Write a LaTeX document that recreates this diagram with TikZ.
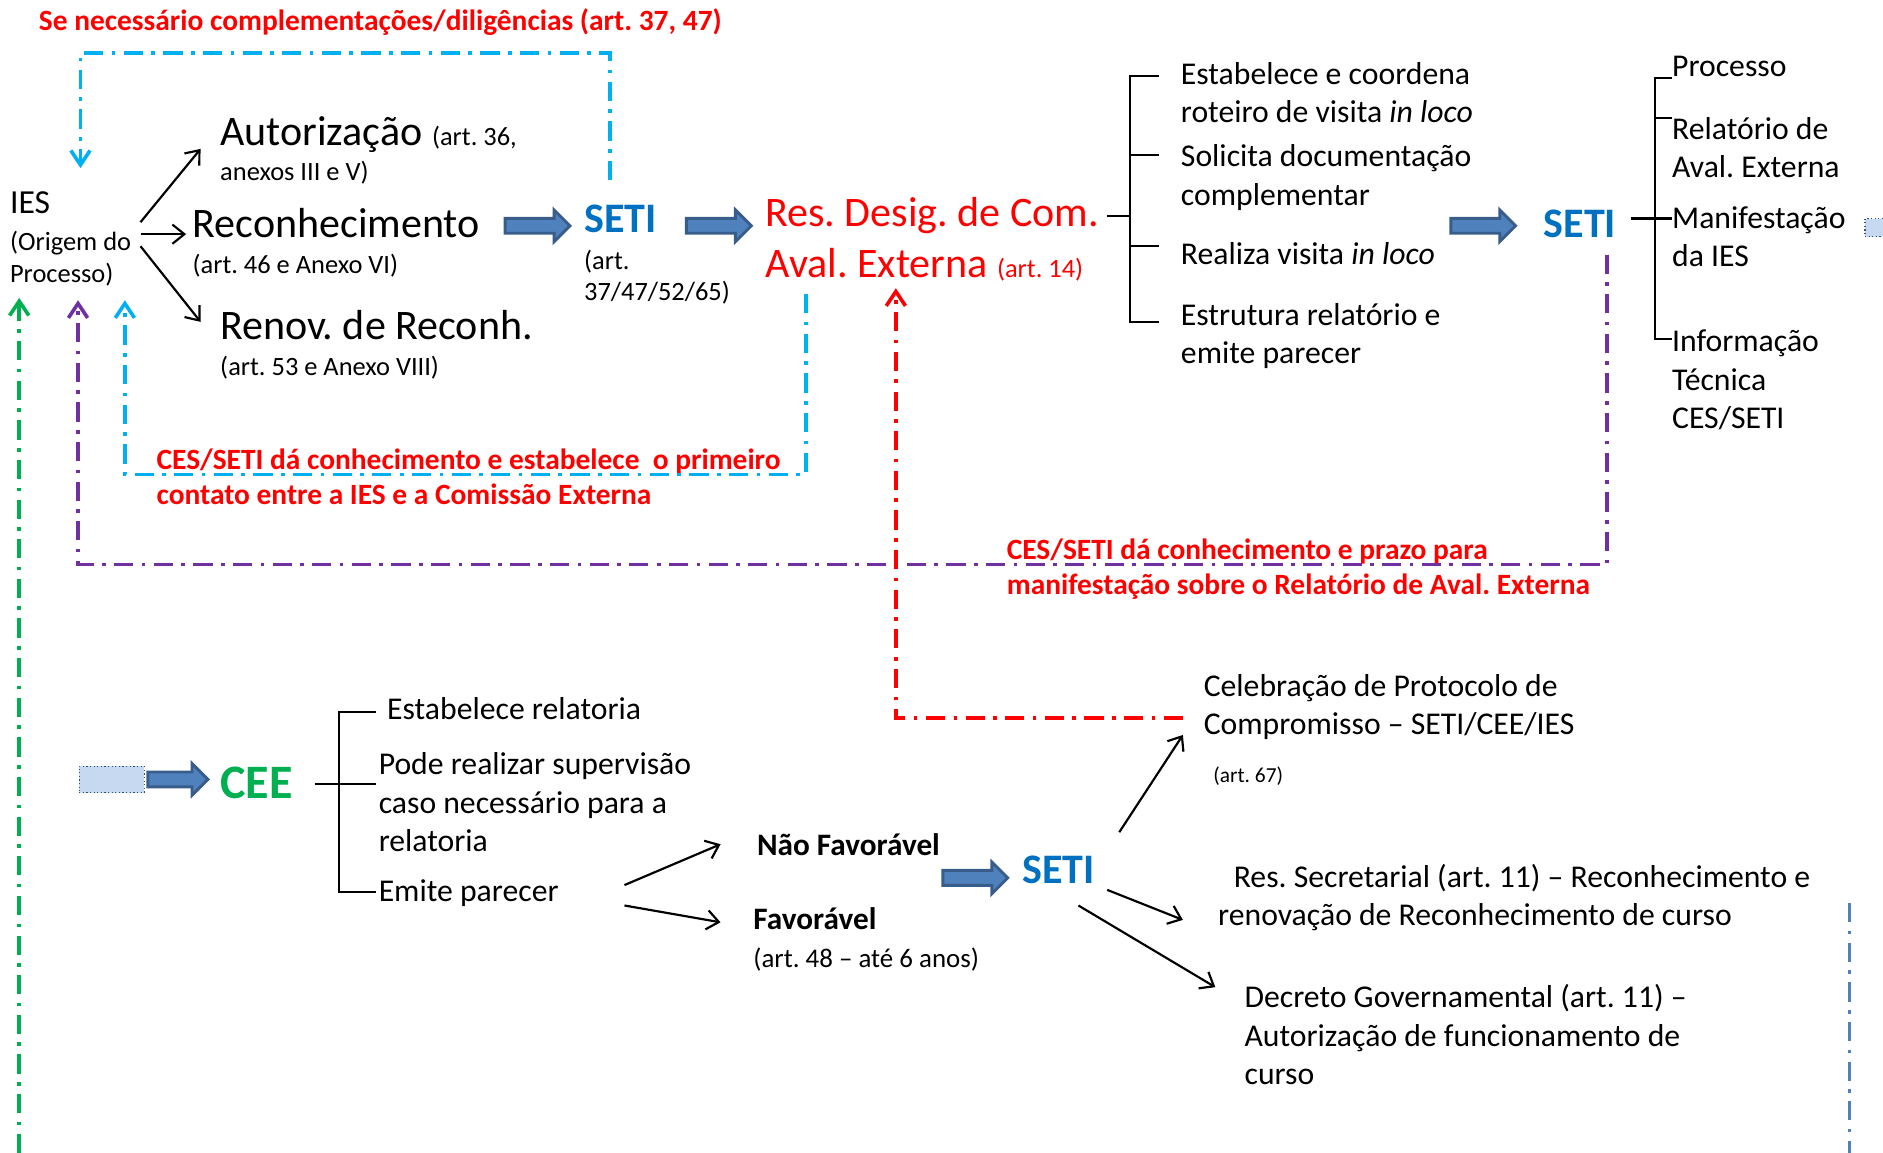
\documentclass[tikz,border=0pt]{standalone}
\usepackage{fontspec}
\setmainfont{Carlito}
\usetikzlibrary{arrows.meta,shapes.arrows}
\frenchspacing
\definecolor{cred}{HTML}{FF0000}
\definecolor{cblue}{HTML}{0070C0}
\definecolor{cgreen}{HTML}{00B050}
\definecolor{ccyan}{HTML}{00B0F0}
\definecolor{cpurple}{HTML}{7030A0}
\definecolor{csteel}{HTML}{4F81BD}
\definecolor{cdark}{HTML}{385D8A}
\definecolor{cfill}{HTML}{4F81BD}
\definecolor{clight}{HTML}{C6D9F1}
\definecolor{cnavy}{HTML}{2F4F7F}
\begin{document}
\begin{tikzpicture}[x=0.5pt,y=-0.5pt,
  txt/.style={anchor=base west, inner sep=0pt, align=left, font=\fontsize{13.2}{16}\selectfont},
  txtb/.style={txt, font=\bfseries\fontsize{13}{16}\selectfont},
  bigt/.style={anchor=base west, inner sep=0pt, font=\fontsize{17.5}{21}\selectfont},
  smlt/.style={anchor=base west, inner sep=0pt, align=left, font=\fontsize{11}{13}\selectfont},
  redb/.style={anchor=base west, inner sep=0pt, align=left, text=cred, font=\bfseries\fontsize{12.25}{14.5}\selectfont},
  setit/.style={anchor=base west, inner sep=0pt, text=cblue, font=\bfseries\fontsize{17.5}{21}\selectfont},
  arr/.style={-{Straight Barb[length=5pt,width=8pt]}, line width=0.9pt},
  ddot/.style={line width=1.5pt, dash pattern=on 8pt off 3.5pt on 1.5pt off 3.5pt},
  dtip/.style={-{Straight Barb[length=6pt,width=8pt]}},
  brk/.style={line width=0.9pt},
  blockarr/.style={single arrow, draw=cdark, fill=cfill, line width=1.2pt, minimum height=27pt,
    inner xsep=0pt, inner ysep=2.5pt, single arrow head extend=3.5pt, anchor=center},
  lbrect/.style={draw=cnavy, densely dotted, fill=clight, line width=0.5pt}
]
\useasboundingbox (0,0) rectangle (1568,960);

% ---------- top-left ----------
\node[redb] (note0) at (32,25) {Se necessário complementações/diligências (art. 37, 47)};
\node[anchor=base west, inner sep=0pt, font=\fontsize{14}{16}\selectfont] (ies) at (8,178) {IES};
\node[smlt] (ies2) at (8,235) {(Origem do\\Processo)};
\node[bigt] (aut) at (183,121) {Autorização {\fontsize{11}{13}\selectfont(art. 36,}};
\node[smlt] (aut2) at (183,150) {anexos III e V)};
\node[bigt] (rec) at (160,198) {Reconhecimento};
\node[smlt] (rec2) at (160,228) {(art. 46 e Anexo VI)};
\node[bigt] (ren) at (183,283) {Renov. de Reconh.};
\node[smlt] (ren2) at (183,313) {(art. 53 e Anexo VIII)};
\node[setit] (seti1) at (486,194) {SETI};
\node[smlt] (seti1b) at (486,250) {(art.\\37/47/52/65)};
\node[bigt, text=cred] (res) at (637,189) {Res. Desig. de Com.};
\node[bigt, text=cred] (res2) at (637,231) {Aval. Externa {\fontsize{11}{13}\selectfont(art. 14)}};

% IES arrows
\coordinate (i1) at (117,185); \coordinate (i2) at (117,195); \coordinate (i3) at (117,205);
\coordinate (a1) at (167,124); \coordinate (a2) at (155,195); \coordinate (a3) at (167,268);
\draw[arr] (i1) -- (a1);
\draw[arr] (i2) -- (a2);
\draw[arr] (i3) -- (a3);

% block arrows
\node[blockarr] (ba1) at (444.5,188) {};
\node[blockarr] (ba2) at (595.5,188) {};
\node[blockarr] (ba3) at (1232,188) {};

% bracket 1
\node[txt] (t1) at (983,102) {Estabelece e coordena\\roteiro de visita \textit{in loco}};
\node[txt] (t2) at (983,171) {Solicita documentação\\complementar};
\node[txt] (t3) at (983,220) {Realiza visita \textit{in loco}};
\node[txt] (t4) at (983,303) {Estrutura relatório e\\emite parecer};
\coordinate (b1) at (922,180);
\draw[brk] (b1) -- (941,180);
\draw[brk] (965,63) -- (941,63) -- (941,268) -- (965,268);
\draw[brk] (941,129) -- (965,129);
\draw[brk] (941,205) -- (965,205);

% SETI 2 and bracket 2
\node[setit] (seti2) at (1285,198) {SETI};
\node[txt] (p1) at (1392,64) {Processo};
\node[txt] (p2) at (1392,148) {Relatório de\\Aval. Externa};
\node[txt] (p3) at (1392,222) {Manifestação\\da IES};
\node[txt] (p4) at (1392,357) {Informação\\Técnica\\CES/SETI};
\coordinate (b2) at (1358,182);
\draw[brk] (b2) -- (1392,182);
\draw[brk] (1392,65) -- (1378,65) -- (1378,282) -- (1392,282);
\draw[brk] (1378,98) -- (1392,98);
\fill[clight] (1553,182) rectangle (1568,197);
\draw[cnavy, densely dotted, line width=0.5pt] (1568,182) -- (1553,182) -- (1553,197) -- (1568,197);

% red notes
\node[redb] (n1) at (130,420) {CES/SETI dá conhecimento e estabelece\ \ o primeiro\\contato entre a IES e a Comissão Externa};
\node[redb] (n2) at (838,495) {CES/SETI dá conhecimento e prazo para\\manifestação sobre o Relatório de Aval. Externa};

% dash-dot connectors
\coordinate (cy1s) at (508,150); \coordinate (cy1e) at (67,140);
\draw[ddot, ccyan, dtip] (cy1s) -- (508,44) -- (67,44) -- (cy1e);
\coordinate (cy2s) at (671,245); \coordinate (cy2e) at (104,250);
\draw[ddot, ccyan, dtip] (cy2s) -- (671,395) -- (104,395) -- (cy2e);
\coordinate (pu1s) at (1338,212); \coordinate (pu1e) at (65,250);
\draw[ddot, cpurple, dtip] (pu1s) -- (1338,470) -- (65,470) -- (pu1e);
\coordinate (rd1s) at (985,598); \coordinate (rd1e) at (746,240);
\draw[ddot, cred, dtip] (rd1s) -- (746,598) -- (rd1e);
\coordinate (gr1s) at (16,960); \coordinate (gr1e) at (16,248);
\draw[ddot, cgreen, dtip] (gr1s) -- (gr1e);
\coordinate (bl1s) at (1540,752); \coordinate (bl1e) at (1540,960);
\draw[ddot, csteel] (bl1s) -- (bl1e);

% ---------- bottom ----------
\node[lbrect, minimum width=27pt, minimum height=11pt, inner sep=0pt] (lb1) at (93,649) {};
\node[blockarr, minimum height=25pt] (ba4) at (145,649) {};
\node[anchor=base west, inner sep=0pt, text=cgreen, font=\bfseries\fontsize{20}{24}\selectfont] (cee) at (183,665) {CEE};
\node[txt] (e1) at (322,599) {Estabelece relatoria};
\node[txt] (e2) at (315,709) {Pode realizar supervisão\\caso necessário para a\\relatoria};
\node[txt] (e3) at (315,751) {Emite parecer};
\coordinate (b3) at (262,653);
\draw[brk] (b3) -- (313,653);
\draw[brk] (313,593) -- (282,593) -- (282,743) -- (313,743);

\node[txtb] (nf) at (630,712) {Não Favorável};
\node[txtb] (fav) at (627,774) {Favorável};
\node[anchor=base west, inner sep=0pt, font=\fontsize{11.2}{13}\selectfont] (fav2) at (627,806) {(art. 48 – até 6 anos)};
\coordinate (em1) at (520,737); \coordinate (em2) at (520,754);
\coordinate (nf1) at (600,703); \coordinate (fv1) at (600,768);
\draw[arr] (em1) -- (nf1);
\draw[arr] (em2) -- (fv1);

\node[blockarr] (ba5) at (809,731) {};
\node[setit] (seti3) at (851,736) {SETI};

\node[txt] (c1) at (1002,612) {Celebração de Protocolo de\\Compromisso – SETI/CEE/IES};
\node[anchor=base west, inner sep=0pt, font=\fontsize{8.9}{10}\selectfont] (c2) at (1010,652) {(art. 67)};
\node[txt] (r1) at (1027,739) {Res. Secretarial (art. 11) – Reconhecimento e};
\node[txt] (r2) at (1014,771) {renovação de Reconhecimento de curso};
\node[txt] (d1) at (1036,903) {Decreto Governamental (art. 11) –\\Autorização de funcionamento de\\curso};

\coordinate (s1) at (932,693); \coordinate (s2) at (922,741); \coordinate (s3) at (898,754);
\coordinate (tc) at (985,612); \coordinate (tr) at (985,766); \coordinate (td) at (1012,822);
\draw[arr] (s1) -- (tc);
\draw[arr] (s2) -- (tr);
\draw[arr] (s3) -- (td);
\end{tikzpicture}
\end{document}
